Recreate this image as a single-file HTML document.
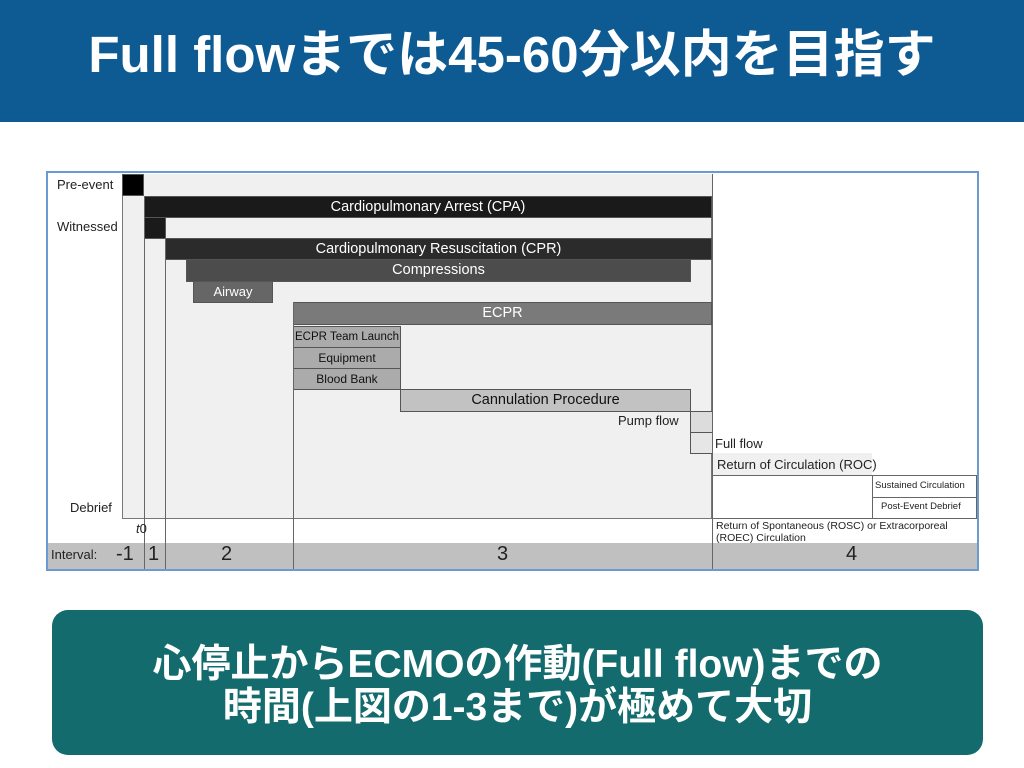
<!DOCTYPE html>
<html><head><meta charset="utf-8"><style>
body{margin:0;width:1024px;height:768px;background:#fff;position:relative;overflow:hidden;font-family:"Liberation Sans","Noto Sans CJK JP",sans-serif}
.hd{position:absolute;left:0;top:0;width:1024px;height:122px;background:#0e5b94;color:#fff;font-weight:bold;font-size:51px;text-align:center;line-height:110px;white-space:nowrap}
.ft{position:absolute;left:52px;top:610px;width:931px;height:145px;border-radius:16px;background:#136b6d;color:#fff;font-weight:bold;font-size:39px;text-align:center;line-height:43px;padding-top:33px;box-sizing:border-box;white-space:nowrap}
.a{position:absolute;box-sizing:border-box}
.b{position:absolute;box-sizing:border-box;border:1px solid #555;color:#fff;font-size:14.5px;text-align:center;line-height:20px;white-space:nowrap;overflow:hidden}
.l{position:absolute;font-size:13px;color:#222;white-space:nowrap}
.v{position:absolute;width:1px;background:#666}
</style></head><body>
<div class="hd">Full flowまでは45-60分以内を目指す</div>
<div class="a" style="left:46px;top:171px;width:933px;height:400px;border:2px solid #6a9ad0;background:#fff"></div>
<div class="a" style="left:122px;top:195px;width:590px;height:324px;background:#f0f0f0;border:1px solid #777"></div>
<div class="a" style="left:144px;top:174px;width:568px;height:22px;background:#f0f0f0"></div>
<div class="a" style="left:712px;top:453px;width:160px;height:23px;background:#f0f0f0"></div>
<div class="b" style="left:122px;top:174px;width:22px;height:22px;background:#000"></div>
<div class="b" style="left:144px;top:196px;width:568px;height:22px;background:#1a1a1a">Cardiopulmonary Arrest (CPA)</div>
<div class="b" style="left:144px;top:217px;width:22px;height:22px;background:#1a1a1a"></div>
<div class="b" style="left:165px;top:238px;width:547px;height:22px;background:#2b2b2b">Cardiopulmonary Resuscitation (CPR)</div>
<div class="b" style="left:186px;top:259px;width:505px;height:23px;background:#4c4c4c">Compressions</div>
<div class="b" style="left:193px;top:281px;width:80px;height:22px;background:#666;font-size:13px">Airway</div>
<div class="b" style="left:293px;top:302px;width:419px;height:23px;background:#7a7a7a">ECPR</div>
<div class="b" style="left:293px;top:326px;width:108px;height:22px;background:#ababab;color:#111;font-size:11.5px">ECPR Team Launch</div>
<div class="b" style="left:293px;top:347px;width:108px;height:22px;background:#ababab;color:#111;font-size:12px">Equipment</div>
<div class="b" style="left:293px;top:368px;width:108px;height:22px;background:#ababab;color:#111;font-size:12px">Blood Bank</div>
<div class="b" style="left:400px;top:389px;width:291px;height:23px;background:#c2c2c2;color:#111">Cannulation Procedure</div>
<div class="b" style="left:690px;top:411px;width:23px;height:22px;background:#dcdcdc"></div>
<div class="b" style="left:690px;top:432px;width:23px;height:22px;background:#e6e6e6"></div>
<div class="l" style="left:618px;top:413px">Pump flow</div>
<div class="l" style="left:715px;top:436px">Full flow</div>
<div class="l" style="left:717px;top:457px">Return of Circulation (ROC)</div>
<div class="a" style="left:712px;top:475px;width:265px;height:1px;background:#666"></div>
<div class="a" style="left:872px;top:475px;width:105px;height:44px;border:1px solid #666"></div>
<div class="a" style="left:872px;top:497px;width:105px;height:1px;background:#666"></div>
<div class="l" style="left:875px;top:480px;font-size:9.5px">Sustained Circulation</div>
<div class="l" style="left:881px;top:501px;font-size:9.5px">Post-Event Debrief</div>
<div class="a" style="left:712px;top:518px;width:265px;height:1px;background:#666"></div>
<div class="l" style="left:716px;top:520px;font-size:10.5px;line-height:12px">Return of Spontaneous (ROSC) or Extracorporeal<br>(ROEC) Circulation</div>
<div class="a" style="left:48px;top:543px;width:929px;height:26px;background:#c0c0c0"></div>
<div class="v" style="left:144px;top:196px;height:373px"></div>
<div class="v" style="left:165px;top:238px;height:331px"></div>
<div class="v" style="left:293px;top:302px;height:267px"></div>
<div class="v" style="left:712px;top:174px;height:395px"></div>
<div class="l" style="left:57px;top:177px">Pre-event</div>
<div class="l" style="left:57px;top:219px">Witnessed</div>
<div class="l" style="left:70px;top:500px">Debrief</div>
<div class="l" style="left:136px;top:521px;font-size:13px"><i>t</i>0</div>
<div class="l" style="left:51px;top:547px;font-size:13px">Interval:</div>
<div class="l" style="left:116px;top:543px;font-size:20px">-1</div>
<div class="l" style="left:148px;top:543px;font-size:20px">1</div>
<div class="l" style="left:221px;top:543px;font-size:20px">2</div>
<div class="l" style="left:497px;top:543px;font-size:20px">3</div>
<div class="l" style="left:846px;top:543px;font-size:20px">4</div>
<div class="ft">心停止からECMOの作動(Full flow)までの<br>時間(上図の1-3まで)が極めて大切</div>
</body></html>
